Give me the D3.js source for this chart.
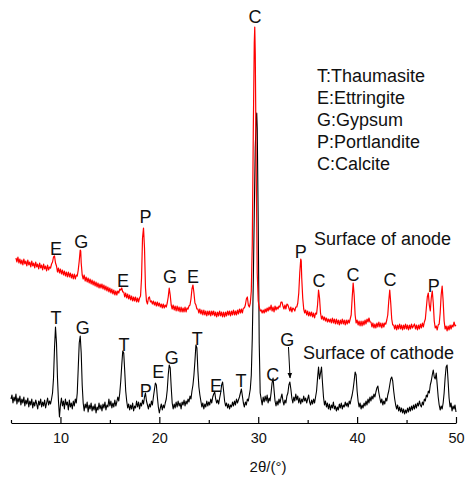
<!DOCTYPE html>
<html>
<head>
<meta charset="utf-8">
<script src="https://cdn.jsdelivr.net/npm/d3@7"></script>
<style>
  html, body { margin: 0; padding: 0; background: #fff; }
  svg { display: block; font-family: "Liberation Sans", Arial, Helvetica, sans-serif; }
</style>
</head>
<body>
<svg id="chart" width="466" height="477"></svg>
<script>
// ---------- DATA ----------
// X-ray diffraction patterns: [2θ (°), intensity (a.u.)]
const cathodeData = [
[5.0,24],[5.1,28],[5.2,20],[5.3,26],[5.4,22],[5.5,29],[5.6,19],[5.7,25],[5.8,21],[5.9,27],
[6.0,18],[6.1,24],[6.2,20],[6.3,26],[6.4,17],[6.5,23],[6.6,19],[6.7,25],[6.8,16],[6.9,22],
[7.0,18],[7.1,24],[7.2,15],[7.3,21],[7.4,17],[7.5,23],[7.6,19],[7.7,14],[7.8,22],[7.9,18],
[8.0,24],[8.1,16],[8.2,21],[8.3,17],[8.4,23],[8.5,15],[8.6,20],[8.7,25],[8.8,18],[8.9,22],
[9.0,19],[9.1,24],[9.2,30],[9.3,45],[9.4,75],[9.5,96],[9.6,80],[9.7,45],[9.8,22],[9.9,6],
[10.0,18],[10.1,25],[10.2,17],[10.3,22],[10.4,14],[10.5,24],[10.6,18],[10.7,21],[10.8,13],[10.9,23],
[11.0,16],[11.1,20],[11.2,14],[11.3,22],[11.4,17],[11.5,24],[11.6,20],[11.7,30],[11.8,55],[11.9,80],
[12.0,87],[12.1,70],[12.2,38],[12.3,20],[12.4,12],[12.5,19],[12.6,15],[12.7,21],[12.8,11],[12.9,18],
[13.0,14],[13.1,20],[13.2,12],[13.3,17],[13.4,13],[13.5,19],[13.6,10],[13.7,16],[13.8,13],[13.9,20],
[14.0,14],[14.1,18],[14.2,12],[14.3,19],[14.4,15],[14.5,21],[14.6,13],[14.7,18],[14.8,16],[14.9,24],
[15.0,17],[15.1,22],[15.2,15],[15.3,20],[15.4,16],[15.5,23],[15.6,17],[15.7,21],[15.8,26],[15.9,22],
[16.0,30],[16.1,42],[16.2,58],[16.3,72],[16.4,70],[16.5,52],[16.6,32],[16.7,22],[16.8,15],[16.9,19],
[17.0,13],[17.1,18],[17.2,14],[17.3,20],[17.4,12],[17.5,17],[17.6,15],[17.7,22],[17.8,16],[17.9,21],
[18.0,14],[18.1,20],[18.2,17],[18.3,23],[18.4,19],[18.5,26],[18.6,30],[18.7,22],[18.8,18],[18.9,14],
[19.0,19],[19.1,16],[19.2,22],[19.3,18],[19.4,26],[19.5,33],[19.6,40],[19.7,38],[19.8,26],[19.9,16],
[20.0,10],[20.1,15],[20.2,19],[20.3,13],[20.4,18],[20.5,15],[20.6,20],[20.7,24],[20.8,33],[20.9,48],
[21.0,58],[21.1,55],[21.2,36],[21.3,20],[21.4,14],[21.5,19],[21.6,15],[21.7,21],[21.8,16],[21.9,22],
[22.0,17],[22.1,20],[22.2,14],[22.3,21],[22.4,18],[22.5,23],[22.6,17],[22.7,22],[22.8,19],[22.9,24],
[23.0,21],[23.1,27],[23.2,24],[23.3,32],[23.4,38],[23.5,48],[23.6,62],[23.7,78],[23.8,75],[23.9,52],
[24.0,36],[24.1,28],[24.2,22],[24.3,16],[24.4,20],[24.5,14],[24.6,19],[24.7,16],[24.8,22],[24.9,17],
[25.0,21],[25.1,18],[25.2,24],[25.3,20],[25.4,26],[25.5,29],[25.6,31],[25.7,24],[25.8,20],[25.9,23],
[26.0,19],[26.1,25],[26.2,30],[26.3,38],[26.4,41],[26.5,32],[26.6,22],[26.7,17],[26.8,20],[26.9,15],
[27.0,19],[27.1,14],[27.2,18],[27.3,16],[27.4,21],[27.5,17],[27.6,22],[27.7,18],[27.8,24],[27.9,20],
[28.0,23],[28.1,26],[28.2,30],[28.3,34],[28.4,27],[28.5,20],[28.6,16],[28.7,21],[28.8,18],[28.9,24],
[29.0,22],[29.1,28],[29.2,34],[29.3,48],[29.4,85],[29.5,140],[29.6,210],[29.7,275],[29.8,305],[29.85,310],
[29.9,295],[30.0,200],[30.1,80],[30.2,30],[30.3,24],[30.4,18],[30.5,26],[30.6,21],[30.7,27],[30.8,22],
[30.9,28],[31.0,20],[31.1,25],[31.2,22],[31.3,30],[31.4,40],[31.5,45],[31.6,33],[31.7,22],[31.8,17],
[31.9,22],[32.0,18],[32.1,24],[32.2,20],[32.3,25],[32.4,29],[32.5,22],[32.6,18],[32.7,23],[32.8,20],
[32.9,27],[33.0,30],[33.1,38],[33.2,41],[33.3,34],[33.4,25],[33.5,20],[33.6,26],[33.7,22],[33.8,29],
[33.9,23],[34.0,27],[34.1,20],[34.2,25],[34.3,19],[34.4,24],[34.5,21],[34.6,27],[34.7,22],[34.8,25],
[34.9,20],[35.0,24],[35.1,28],[35.2,21],[35.3,18],[35.4,23],[35.5,19],[35.6,24],[35.7,20],[35.8,26],
[35.9,32],[36.0,45],[36.1,56],[36.2,44],[36.3,50],[36.4,56],[36.5,40],[36.6,26],[36.7,18],[36.8,22],
[36.9,16],[37.0,20],[37.1,14],[37.2,19],[37.3,13],[37.4,18],[37.5,15],[37.6,21],[37.7,14],[37.8,17],
[37.9,12],[38.0,16],[38.1,13],[38.2,19],[38.3,15],[38.4,20],[38.5,14],[38.6,18],[38.7,16],[38.8,21],
[38.9,17],[39.0,20],[39.1,16],[39.2,22],[39.3,19],[39.4,24],[39.5,28],[39.6,34],[39.7,42],[39.8,51],
[39.9,48],[40.0,32],[40.1,22],[40.2,16],[40.3,20],[40.4,14],[40.5,18],[40.6,15],[40.7,20],[40.8,17],
[40.9,22],[41.0,18],[41.1,24],[41.2,20],[41.3,26],[41.4,22],[41.5,27],[41.6,24],[41.7,29],[41.8,26],
[41.9,31],[42.0,35],[42.1,37],[42.2,30],[42.3,25],[42.4,20],[42.5,24],[42.6,18],[42.7,22],[42.8,19],
[42.9,25],[43.0,22],[43.1,28],[43.2,32],[43.3,38],[43.4,44],[43.5,46],[43.6,42],[43.7,32],[43.8,24],
[43.9,18],[44.0,14],[44.1,18],[44.2,12],[44.3,16],[44.4,11],[44.5,15],[44.6,10],[44.7,14],[44.8,9],
[44.9,13],[45.0,10],[45.1,15],[45.2,11],[45.3,16],[45.4,12],[45.5,17],[45.6,13],[45.7,18],[45.8,14],
[45.9,19],[46.0,15],[46.1,20],[46.2,17],[46.3,22],[46.4,18],[46.5,16],[46.6,21],[46.7,18],[46.8,24],
[46.9,22],[47.0,28],[47.1,26],[47.2,32],[47.3,30],[47.4,38],[47.5,42],[47.6,48],[47.7,53],[47.8,46],
[47.9,44],[48.0,50],[48.1,38],[48.2,26],[48.3,18],[48.4,13],[48.5,17],[48.6,14],[48.7,20],[48.8,30],
[48.9,45],[49.0,56],[49.1,58],[49.2,42],[49.3,25],[49.4,16],[49.5,20],[49.6,12],[49.7,17],[49.8,14],
[49.9,18],[50.0,11]
];

const anodeData = [
[5.5,165],[5.6,161],[5.7,166],[5.8,160],[5.9,164],[6.0,159],[6.1,163],[6.2,158],[6.3,164],[6.4,159],
[6.5,162],[6.6,157],[6.7,163],[6.8,158],[6.9,161],[7.0,156],[7.1,162],[7.2,157],[7.3,160],[7.4,155],
[7.5,161],[7.6,156],[7.7,159],[7.8,154],[7.9,160],[8.0,155],[8.1,158],[8.2,153],[8.3,159],[8.4,154],
[8.5,157],[8.6,152],[8.7,158],[8.8,153],[8.9,156],[9.0,155],[9.1,159],[9.2,161],[9.3,166],[9.4,167],
[9.5,160],[9.6,157],[9.7,151],[9.8,155],[9.9,150],[10.0,154],[10.1,149],[10.2,153],[10.3,148],[10.4,152],
[10.5,147],[10.6,151],[10.7,146],[10.8,151],[10.9,146],[11.0,150],[11.1,145],[11.2,149],[11.3,144],[11.4,149],
[11.5,144],[11.6,148],[11.7,147],[11.8,153],[11.9,162],[12.0,173],[12.05,172],[12.1,160],[12.2,148],[12.3,144],
[12.4,148],[12.5,142],[12.6,146],[12.7,141],[12.8,145],[12.9,140],[13.0,144],[13.1,139],[13.2,143],[13.3,138],
[13.4,142],[13.5,137],[13.6,141],[13.7,136],[13.8,140],[13.9,135],[14.0,139],[14.1,135],[14.2,139],[14.3,134],
[14.4,138],[14.5,133],[14.6,137],[14.7,132],[14.8,136],[14.9,131],[15.0,135],[15.1,130],[15.2,134],[15.3,129],
[15.4,133],[15.5,128],[15.6,132],[15.7,128],[15.8,132],[15.9,130],[16.0,134],[16.1,133],[16.2,135],[16.3,131],
[16.4,131],[16.5,126],[16.6,130],[16.7,125],[16.8,129],[16.9,124],[17.0,128],[17.1,123],[17.2,127],[17.3,122],
[17.4,126],[17.5,122],[17.6,126],[17.7,121],[17.8,125],[17.9,121],[18.0,125],[18.1,127],[18.2,145],[18.3,185],
[18.4,195],[18.5,175],[18.6,135],[18.7,122],[18.8,119],[18.9,125],[19.0,126],[19.1,121],[19.2,122],[19.3,119],
[19.4,122],[19.5,118],[19.6,121],[19.7,117],[19.8,121],[19.9,117],[20.0,120],[20.1,116],[20.2,119],[20.3,115],
[20.4,119],[20.5,115],[20.6,118],[20.7,116],[20.8,120],[20.9,126],[21.0,135],[21.1,128],[21.2,118],[21.3,114],
[21.4,118],[21.5,113],[21.6,117],[21.7,112],[21.8,117],[21.9,112],[22.0,116],[22.1,111],[22.2,116],[22.3,111],
[22.4,115],[22.5,111],[22.6,116],[22.7,111],[22.8,115],[22.9,114],[23.0,117],[23.1,118],[23.2,124],[23.3,134],
[23.4,138],[23.5,130],[23.6,120],[23.7,118],[23.8,114],[23.9,114],[24.0,110],[24.1,114],[24.2,109],[24.3,113],
[24.4,108],[24.5,113],[24.6,108],[24.7,112],[24.8,107],[24.9,112],[25.0,108],[25.1,112],[25.2,107],[25.3,112],
[25.4,108],[25.5,112],[25.6,107],[25.7,111],[25.8,106],[25.9,111],[26.0,107],[26.1,112],[26.2,107],[26.3,111],
[26.4,106],[26.5,111],[26.6,106],[26.7,111],[26.8,107],[26.9,112],[27.0,108],[27.1,112],[27.2,107],[27.3,112],
[27.4,108],[27.5,113],[27.6,108],[27.7,112],[27.8,108],[27.9,113],[28.0,109],[28.1,114],[28.2,110],[28.3,114],
[28.4,110],[28.5,115],[28.6,115],[28.7,118],[28.8,124],[28.9,126],[29.0,118],[29.1,116],[29.2,120],[29.3,132],
[29.4,180],[29.5,290],[29.6,380],[29.65,396],[29.7,370],[29.8,250],[29.9,150],[30.0,122],[30.1,116],[30.2,112],
[30.3,113],[30.4,110],[30.5,113],[30.6,110],[30.7,114],[30.8,111],[30.9,115],[31.0,112],[31.1,116],[31.2,113],
[31.3,118],[31.4,112],[31.5,116],[31.6,111],[31.7,117],[31.8,113],[31.9,116],[32.0,114],[32.1,117],[32.2,116],
[32.3,121],[32.4,121],[32.5,117],[32.6,114],[32.7,118],[32.8,114],[32.9,119],[33.0,118],[33.1,115],[33.2,112],
[33.3,116],[33.4,111],[33.5,115],[33.6,114],[33.7,112],[33.8,116],[33.9,116],[34.0,120],[34.1,130],[34.2,150],
[34.3,164],[34.35,162],[34.4,145],[34.5,125],[34.6,114],[34.7,110],[34.8,113],[34.9,108],[35.0,112],[35.1,107],
[35.2,111],[35.3,107],[35.4,111],[35.5,106],[35.6,110],[35.7,105],[35.8,110],[35.9,109],[36.0,118],[36.1,133],
[36.2,125],[36.3,110],[36.4,104],[36.5,107],[36.6,103],[36.7,106],[36.8,102],[36.9,105],[37.0,101],[37.1,104],
[37.2,101],[37.3,104],[37.4,100],[37.5,105],[37.6,100],[37.7,104],[37.8,99],[37.9,104],[38.0,99],[38.1,103],
[38.2,98],[38.3,103],[38.4,99],[38.5,104],[38.6,99],[38.7,103],[38.8,98],[38.9,103],[39.0,99],[39.1,103],
[39.2,100],[39.3,104],[39.4,108],[39.5,125],[39.6,140],[39.7,128],[39.8,108],[39.9,100],[40.0,103],[40.1,98],
[40.2,102],[40.3,97],[40.4,102],[40.5,97],[40.6,102],[40.7,98],[40.8,103],[40.9,99],[41.0,104],[41.1,101],
[41.2,105],[41.3,101],[41.4,101],[41.5,96],[41.6,100],[41.7,95],[41.8,99],[41.9,95],[42.0,100],[42.1,96],
[42.2,101],[42.3,96],[42.4,100],[42.5,95],[42.6,100],[42.7,96],[42.8,100],[42.9,99],[43.0,103],[43.1,108],
[43.2,122],[43.3,133],[43.4,120],[43.5,104],[43.6,98],[43.7,98],[43.8,94],[43.9,98],[44.0,93],[44.1,98],
[44.2,94],[44.3,99],[44.4,94],[44.5,98],[44.6,93],[44.7,98],[44.8,94],[44.9,99],[45.0,94],[45.1,98],
[45.2,93],[45.3,98],[45.4,94],[45.5,99],[45.6,95],[45.7,97],[45.8,99],[45.9,94],[46.0,98],[46.1,93],
[46.2,98],[46.3,94],[46.4,99],[46.5,95],[46.6,100],[46.7,96],[46.8,101],[46.9,104],[47.0,115],[47.1,126],
[47.2,130],[47.3,118],[47.4,112],[47.5,125],[47.6,132],[47.7,120],[47.8,102],[47.9,95],[48.0,97],[48.1,93],
[48.2,98],[48.3,99],[48.4,110],[48.5,128],[48.6,137],[48.7,122],[48.8,102],[48.9,94],[49.0,97],[49.1,92],
[49.2,97],[49.3,93],[49.4,98],[49.5,94],[49.6,98],[49.7,96],[49.8,101],[49.9,97],[50.0,98]
];

// Phase labels: [letter, 2θ, intensity at label baseline]
const anodeLabels = [
["E",9.55,168],["G",12.1,175],["E",16.33,136],["P",18.6,200],["G",21.08,140],["E",23.4,140],
["C",29.67,400],["P",34.3,165],["C",36.15,136],["C",39.58,142],["C",43.33,137],["P",47.75,131]
];
const cathodeLabels = [
["T",9.55,99],["G",12.25,89],["T",16.43,72],["P",18.62,26],["E",19.9,45],["G",21.25,59],
["T",23.84,78],["E",25.73,31],["T",28.26,36],["C",31.46,42],["G",32.94,77]
];
// Arrow from the G label to its cathode peak: [2θ, intensity]
const arrowPoints = [[33.06,76],[33.22,45]];

const legendLines = ["T:Thaumasite","E:Ettringite","G:Gypsum","P:Portlandite","C:Calcite"];
const seriesNames = ["Surface of anode","Surface of cathode"];
const majorTicks = [10,20,30,40,50];
const minorTicks = [5,15,25,35,45];
const xTitle = "2θ/(°)";

// ---------- CHART ----------
const svg = d3.select("#chart");
const x = d3.scaleLinear().domain([5, 50]).range([11, 456]);
const y = d3.scaleLinear().domain([0, 413]).range([423, 10]);

const line = d3.line().x(d => x(d[0])).y(d => y(d[1]));

svg.append("path").datum(cathodeData)
  .attr("d", line).attr("fill", "none")
  .attr("stroke", "#000").attr("stroke-width", 1.1).attr("stroke-linejoin", "round");

svg.append("path").datum(anodeData)
  .attr("d", line).attr("fill", "none")
  .attr("stroke", "#ff0000").attr("stroke-width", 1.2).attr("stroke-linejoin", "round");

// axis
const axisG = svg.append("g").attr("transform", `translate(0,${y(0)})`);
axisG.call(d3.axisBottom(x).tickValues(majorTicks).tickSizeInner(-6).tickSizeOuter(0)
  .tickPadding(10).tickFormat(d3.format("d")));
axisG.select(".domain").attr("stroke", "#000").attr("stroke-width", 1.2);
axisG.selectAll(".tick line").attr("stroke", "#000").attr("stroke-width", 1.2);
axisG.selectAll(".tick text").attr("font-size", 14.5).attr("fill", "#111")
  .attr("font-family", "'Liberation Sans', Arial, sans-serif");

const minorG = svg.append("g").attr("transform", `translate(0,${y(0)})`);
minorG.call(d3.axisBottom(x).tickValues(minorTicks).tickSizeInner(-3).tickSizeOuter(0).tickFormat(""));
minorG.select(".domain").remove();
minorG.selectAll(".tick line").attr("stroke", "#000").attr("stroke-width", 1.2);

svg.append("text").attr("x", 268).attr("y", 472).attr("text-anchor", "middle")
  .attr("font-size", 15).attr("fill", "#111").text(xTitle);

// phase labels
const allLabels = anodeLabels.concat(cathodeLabels);
svg.append("g").selectAll("text").data(allLabels).join("text")
  .attr("x", d => x(d[1])).attr("y", d => y(d[2]))
  .attr("text-anchor", "middle").attr("font-size", 18).attr("fill", "#111")
  .text(d => d[0]);

// arrow
svg.append("defs").append("marker")
  .attr("id", "ah").attr("viewBox", "0 0 10 10").attr("refX", 9).attr("refY", 5)
  .attr("markerWidth", 6).attr("markerHeight", 7).attr("orient", "auto")
  .append("path").attr("d", "M0,1 L10,5 L0,9 Z").attr("fill", "#000");
svg.append("line")
  .attr("x1", x(arrowPoints[0][0])).attr("y1", y(arrowPoints[0][1]))
  .attr("x2", x(arrowPoints[1][0])).attr("y2", y(arrowPoints[1][1]))
  .attr("stroke", "#000").attr("stroke-width", 1).attr("marker-end", "url(#ah)");

// legend text
svg.append("g").selectAll("text").data(legendLines).join("text")
  .attr("x", 317).attr("y", (d, i) => 82 + i * 22)
  .attr("font-size", 18).attr("fill", "#111").text(d => d);

// series names
svg.append("text").attr("x", 314).attr("y", 245).attr("font-size", 18).attr("fill", "#111").text(seriesNames[0]);
svg.append("text").attr("x", 303).attr("y", 359).attr("font-size", 18).attr("fill", "#111").text(seriesNames[1]);
</script>
</body>
</html>
